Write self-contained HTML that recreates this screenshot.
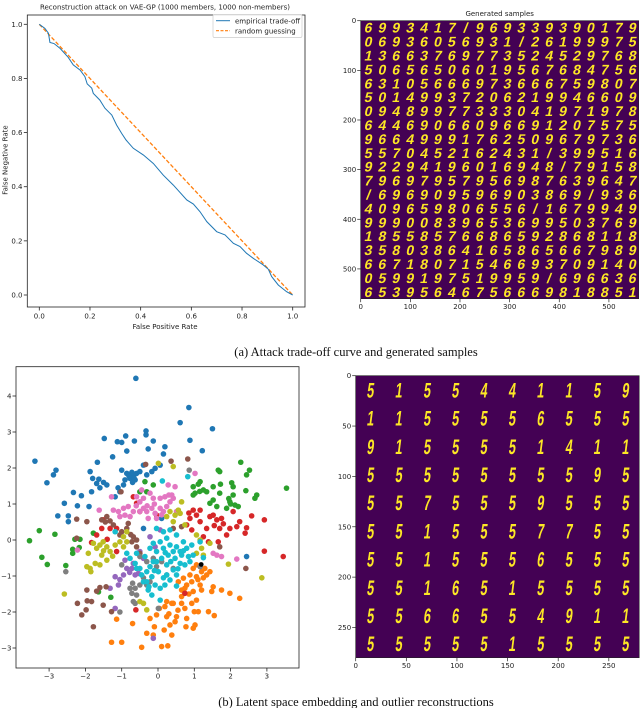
<!DOCTYPE html>
<html><head><meta charset="utf-8"><style>
html,body{margin:0;padding:0;background:#fff;}
svg{display:block;}
.tk{font-family:"DejaVu Sans","Liberation Sans",sans-serif;font-size:7px;fill:#222;}
.cap{font-family:"Liberation Serif",serif;font-size:12.5px;fill:#111;}
</style></head><body>
<svg id="fig" width="640" height="708" viewBox="0 0 640 708" xmlns="http://www.w3.org/2000/svg">
<g id="tl"></g>
<g id="tr"></g>
<g id="bl"></g>
<g id="br"></g>
<text class="cap" x="356" y="356" text-anchor="middle">(a) Attack trade-off curve and generated samples</text>
<text class="cap" x="356" y="706" text-anchor="middle">(b) Latent space embedding and outlier reconstructions</text>
</svg>
<script>
// ---------- trade-off data ----------
const fpr=[0,0.022,0.036,0.042,0.058,0.082,0.114,0.134,0.161,0.180,0.189,0.207,0.213,0.239,0.259,0.286,0.305,0.325,0.342,0.371,0.411,0.450,0.489,0.529,0.582,0.608,0.634,0.661,0.700,0.733,0.766,0.792,0.818,0.845,0.884,0.904,0.917,0.943,0.976,1];
const fnr=[1,0.985,0.967,0.933,0.929,0.911,0.878,0.850,0.831,0.807,0.780,0.764,0.745,0.720,0.690,0.665,0.628,0.597,0.573,0.542,0.517,0.486,0.443,0.406,0.351,0.336,0.308,0.271,0.234,0.222,0.191,0.179,0.154,0.135,0.111,0.095,0.068,0.037,0.012,0];
const randX=[0,1];
const randY=[1,0];
const tlTicks=["0.0","0.2","0.4","0.6","0.8","1.0"];
// ---------- generated samples ----------
const genRows=["6993417/969339390179","06936056931/26199975","13663769773524529768","50656506019567684756","63105666973666759807","50149937206219946609","09489977333041971978","64469066096691207575","96649991762509679736","5570452162431/399516","92294196016948/79158","79697957956987639647","/696909596903869/936","409659806556/1679949","99900839653699503769","18558576686592868118","35803864165865667989","66718071546693709140","0599197519959/696636","65395646756669818851"];
// ---------- outlier reconstructions ----------
const recRows=["5155441159","1155556555","9155551411","5555555595","5575559555","5515557755","5515556555","5516515555","5566554911","5555515555"];
// ---------- latent scatter ----------
const clsColors=["#1f77b4","#ff7f0e","#2ca02c","#d62728","#9467bd","#8c564b","#e377c2","#7f7f7f","#bcbd22","#17becf"];
const c0=[[-0.61,4.49],[0.85,3.68],[0.61,3.26],[1.5,3.09],[0.88,2.77],[1.22,2.48],[-0.33,3.03],[-0.33,2.92],[-0.13,2.75],[-0.27,2.53],[-0.65,2.75],[-0.89,2.89],[-1.0,2.71],[-0.86,2.47],[-1.12,2.73],[-1.48,2.82],[-1.25,2.31],[-1.67,2.16],[-1.87,1.9],[-1.8,1.71],[-1.63,1.69],[-1.69,1.57],[-1.83,1.34],[-2.33,1.32],[-2.11,1.23],[-2.58,1.02],[-2.22,0.95],[-1.9,0.93],[-3.39,2.19],[-3.06,1.59],[-2.88,1.81],[-2.81,1.94],[-2.76,0.67],[-2.47,0.67],[-2.47,0.51],[-1.41,1.53],[-1.18,1.2],[-1.05,1.34],[-0.95,1.53],[-0.91,1.67],[-0.77,1.71],[-0.68,1.81],[-0.59,1.85],[-0.63,1.67],[-0.86,1.85],[-1.0,1.94],[-0.7,1.6],[-0.5,1.9],[-0.31,1.81],[-0.17,1.9],[-0.08,1.99],[0.15,2.39],[0.19,2.59],[0.06,2.08],[-0.4,2.08],[2.44,-0.46],[0.1,0.6],[-0.4,0.32],[-0.8,1.78],[-0.72,1.88],[-0.66,1.72],[-1.1,1.45],[-1.5,1.6],[-1.6,1.45]];
const c1=[[-1.0,-2.84],[-1.28,-2.84],[-1.14,-2.2],[-0.7,-2.32],[-0.45,-2.98],[-0.31,-2.59],[-0.13,-2.64],[0.1,-2.96],[0.27,-2.94],[0.17,-2.5],[0.33,-2.36],[0.38,-2.64],[0.47,-2.27],[0.51,-2.13],[0.24,-2.13],[-0.04,-2.08],[0.04,-1.9],[0.19,-1.85],[0.38,-1.76],[0.65,-1.76],[0.74,-1.9],[0.93,-1.76],[1.06,-1.67],[1.0,-1.99],[1.11,-1.99],[0.79,-2.18],[1.02,-2.36],[1.39,-1.99],[1.55,-2.1],[0.97,-2.45],[0.77,-2.41],[0.65,-1.39],[0.79,-1.25],[0.93,-1.16],[1.06,-1.02],[1.2,-0.88],[1.29,-0.79],[1.34,-0.97],[1.43,-0.88],[1.16,-1.25],[1.2,-1.39],[1.52,-1.3],[1.75,-1.39],[1.98,-1.48],[2.25,-1.62],[1.48,-1.43],[0.97,-0.79],[0.88,-0.97],[0.7,-1.06],[0.56,-1.16],[0.42,-1.76],[0.65,-1.57],[0.97,-1.43],[0.24,-1.71],[1.06,-0.69],[0.74,-1.34],[-0.22,-2.18],[-0.1,-2.41],[1.1,-1.1],[1.25,-1.05],[0.85,-1.5],[0.55,-1.95],[0.3,-2.05]];
const c2=[[2.28,2.16],[2.52,1.94],[2.44,1.81],[1.66,1.94],[1.7,1.9],[1.16,1.62],[1.11,1.55],[0.97,1.48],[1.25,1.39],[1.34,1.34],[1.52,1.48],[1.72,1.55],[2.03,1.59],[2.07,1.48],[2.42,1.37],[2.07,1.25],[1.98,1.06],[2.12,0.97],[1.89,0.88],[1.62,0.93],[1.52,1.11],[1.43,1.02],[0.97,1.25],[1.02,1.3],[2.67,1.16],[2.72,1.25],[3.54,1.44],[2.21,0.93],[1.7,1.3],[-0.31,1.34],[-0.5,1.34],[-0.13,1.53],[-0.36,1.62],[-3.54,-0.02],[-3.27,0.26],[-2.84,0.16],[-3.2,-0.48],[-3.05,-0.68],[-2.54,-0.71],[-2.35,-0.26],[-2.35,-0.37],[-2.29,0.02],[-2.15,0.02],[-2.17,-0.21],[-1.78,0.19],[-1.3,-1.59],[-1.64,-1.44],[1.95,1.15],[2.0,1.0],[1.15,1.35]];
const c3=[[2.58,0.67],[2.93,0.56],[3.45,-0.46],[2.93,-0.31],[2.4,0.19],[2.44,0.34],[2.25,0.51],[2.17,0.37],[1.98,0.32],[1.89,0.14],[1.7,0.32],[1.62,0.56],[1.43,0.65],[1.52,0.69],[1.75,0.6],[1.34,0.32],[1.16,0.51],[1.06,0.69],[0.88,0.6],[0.97,0.83],[1.16,0.83],[0.79,0.42],[0.93,0.28],[1.66,-0.05],[1.39,-0.05],[2.07,0.79],[1.25,0.09],[-1.51,0.56],[-1.32,0.32],[-1.55,0.32],[-1.14,0.32],[-1.69,0.14],[-1.83,-0.07],[-1.4,0.02],[-1.14,-0.32],[-0.68,1.2],[-0.59,1.02],[-0.04,0.69],[0.74,-1.48],[-0.61,-1.94],[-0.5,0.79],[1.8,0.45],[1.55,0.4],[0.85,0.75]];
const c4=[[-1.18,-1.02],[-1.09,-1.25],[-1.32,-1.34],[-0.95,-0.97],[-0.86,-0.79],[-0.68,-0.65],[-0.54,-0.93],[-0.63,-0.97],[-0.13,-2.73],[-1.18,-1.9],[-0.91,-0.56],[-0.4,-0.51],[-0.08,-0.19],[0.06,0.28],[-0.22,0.09],[-0.5,-0.32],[-0.72,-0.79],[-1.05,-1.1],[-0.78,-0.9]];
const c5=[[-2.22,-1.76],[-2.1,-2.08],[-1.98,-1.94],[-1.83,-1.71],[-1.95,-1.69],[-1.78,-2.41],[-1.96,-1.39],[-1.69,-1.42],[-1.6,-1.32],[-1.43,-1.3],[-1.51,-1.81],[-1.28,-1.99],[-2.24,0.05],[-1.96,0.51],[-1.55,0.56],[-1.41,0.65],[-1.32,0.53],[-1.23,0.42],[-0.68,0.09],[-0.59,0],[-0.72,-0.05],[-1.0,0.23],[-0.86,0.32],[-1.05,0.14],[-0.34,2.1],[-1.02,1.34],[0.36,2.19],[0.82,2.25],[0.42,0.32],[0.65,0.37],[1.7,-0.19],[2.42,-0.79],[-2.24,0.58],[-0.59,-0.19],[-0.5,-0.37],[-0.82,0.46],[-1.45,0.5],[-0.75,0.15]];
const c6=[[-1.23,0.83],[-1.09,0.79],[-0.95,0.88],[-0.82,0.93],[-0.91,0.69],[-0.77,0.65],[-0.68,0.79],[-0.5,0.79],[-0.4,0.88],[-0.31,0.79],[-0.17,0.88],[-0.08,0.74],[0.06,0.88],[0.15,0.79],[0.24,0.93],[0.33,1.06],[0.42,1.16],[0.38,1.25],[0.19,1.2],[0.06,1.16],[-0.13,1.16],[-0.22,1.3],[-0.4,1.16],[-0.59,1.2],[-0.5,1.06],[-0.45,1.39],[0.28,1.53],[0.47,1.48],[-1.28,1.2],[-1.62,0.83],[1.02,1.85],[1.62,-0.42],[1.75,-0.46],[1.52,-0.37],[2.17,-0.53],[-2.22,-0.28],[-0.27,0.6],[-0.04,0.6],[0.51,0.79],[-1.05,0.65],[-0.3,0.95],[-0.1,1.0],[0.1,0.7],[0.3,1.25],[-0.6,0.95]];
const c7=[[-0.77,-1.34],[-0.72,-1.48],[-0.63,-1.34],[-0.59,-1.53],[-0.68,-1.71],[-0.5,-1.25],[-0.31,-1.25],[-0.22,-1.16],[-0.04,-0.74],[0.1,-0.6],[-0.13,-0.51],[-0.31,-0.6],[-0.5,-0.46],[0.01,-1.9],[-1.05,-2.0],[-2.54,-0.88],[0.86,1.94],[0.24,-0.97],[0.42,-0.79],[-1.0,-0.69],[-0.63,-1.76],[1.16,-0.74],[-0.7,-1.2],[-0.4,-1.05]];
const c8=[[-1.78,-0.09],[-1.6,-0.14],[-1.69,-0.23],[-1.51,-0.05],[-1.41,-0.19],[-1.32,-0.32],[-1.55,-0.42],[-1.41,-0.56],[-1.6,-0.69],[-1.73,-0.65],[-1.92,-0.37],[-1.87,-0.79],[-1.96,-0.74],[-1.85,-0.88],[-1.18,-0.14],[-1.05,-0.05],[-0.95,0.09],[-0.86,0.23],[-0.86,-0.05],[-0.95,-0.19],[-2.58,-1.5],[0.24,0.65],[0.33,0.79],[0.47,0.69],[0.56,0.83],[0.61,0.74],[0.42,0.51],[0.65,1.06],[0.42,2.04],[0.01,2.13],[1.06,0.14],[1.16,0],[1.2,-0.23],[1.25,-0.42],[1.06,-0.37],[1.43,-0.09],[1.94,-0.67],[2.86,-1.05],[-0.5,-1.71],[-0.4,-1.76],[-0.31,-1.94],[0.74,0.42],[-1.5,-0.3],[-1.25,-0.45]];
const c9=[[-0.04,0.32],[0.15,0.23],[0.33,0.28],[0.51,0.14],[0.24,0.05],[0.06,-0.05],[-0.13,-0.09],[-0.22,-0.23],[-0.04,-0.32],[0.15,-0.23],[0.33,-0.14],[0.51,-0.19],[0.7,-0.05],[0.79,-0.23],[0.65,-0.42],[0.47,-0.51],[0.28,-0.42],[0.1,-0.51],[0.24,-0.69],[0.42,-0.83],[0.61,-0.65],[0.74,-0.69],[0.84,-0.46],[0.93,-0.14],[0.97,-0.42],[0.51,-0.97],[0.33,-1.11],[0.19,-1.25],[0.06,-1.34],[-0.08,-1.25],[-0.17,-1.02],[-0.31,-0.88],[-0.45,-0.97],[-0.4,-1.16],[-0.27,-1.39],[-0.5,-0.79],[-0.63,-0.65],[-0.77,-0.51],[-0.86,-0.37],[-0.59,-0.37],[-0.36,-0.46],[-0.13,-0.6],[0.01,-0.88],[0.24,-0.97],[-0.17,-1.53],[0.51,-1.28],[0.12,1.64],[0.82,1.76],[0.06,-1.67],[1.25,-0.49],[1.16,-0.05],[-0.59,-0.79],[0.61,-0.32],[0.42,-0.32],[-0.04,-0.6],[-0.22,-0.74],[-0.31,-1.16],[-1.18,0.23],[0.35,-0.6],[0.55,-0.8],[0.2,-0.35],[-0.1,-0.85],[0.15,-1.05],[-0.25,-1.3],[0.7,-0.3],[0.88,-0.6]];
const outlier=[[1.19,-0.68]];
const sxTicks=[-3,-2,-1,0,1,2,3];
const syTicks=[-3,-2,-1,0,1,2,3,4];

const NS="http://www.w3.org/2000/svg";
function mk(tag,parent,attrs){const e=document.createElementNS(NS,tag);for(const k in attrs)e.setAttribute(k,attrs[k]);parent.appendChild(e);return e;}
function txt(parent,x,y,s,cls,anchor){const t=mk('text',parent,{x:x,y:y,class:cls||'tk','text-anchor':anchor||'middle'});t.textContent=s;return t;}

// ===== top-left trade-off =====
(function(){
const g=document.getElementById('tl');
const X=v=>39.3+v*253.4, Y=v=>295-v*270.7;
const bg=mk('rect',g,{x:27.3,y:15,width:277.7,height:292,fill:'#fff',stroke:'#222','stroke-width':0.8});

const t=txt(g,165,9.5,'Reconstruction attack on VAE-GP (1000 members, 1000 non-members)','tk');t.setAttribute('font-size','8.6');

tlTicks.forEach((s,i)=>{const v=i/5;
 mk('line',g,{x1:X(v),x2:X(v),y1:307,y2:310.5,stroke:'#222','stroke-width':0.8});
 const l=txt(g,X(v),318.5,s);
 mk('line',g,{x1:23.8,x2:27.3,y1:Y(v),y2:Y(v),stroke:'#222','stroke-width':0.8});
 const m=txt(g,22.5,Y(v)+2.5,s,'tk','end');
});
const xl=txt(g,165,329,'False Positive Rate');
const yl=txt(g,0,0,'False Negative Rate');yl.setAttribute('transform','translate(7.5,160) rotate(-90)');

const rp=mk('polyline',g,{points:randX.map((v,i)=>X(v)+','+Y(randY[i])).join(' '),fill:'none',stroke:'#ff7f0e','stroke-width':1.3,'stroke-dasharray':'4,2'});

const ep=mk('polyline',g,{points:fpr.map((v,i)=>X(v)+','+Y(fnr[i])).join(' '),fill:'none',stroke:'#1f77b4','stroke-width':1});

const lg=mk('g',g,{});
mk('rect',lg,{x:213,y:14.5,width:89,height:23,rx:1.5,fill:'#fff','fill-opacity':0.85,stroke:'#ccc','stroke-width':0.7});
mk('line',lg,{x1:216,x2:230,y1:20.7,y2:20.7,stroke:'#1f77b4','stroke-width':1});
mk('line',lg,{x1:216,x2:230,y1:30.7,y2:30.7,stroke:'#ff7f0e','stroke-width':1.2,'stroke-dasharray':'3,1.5'});
const e1=txt(lg,235,23.3,'empirical trade-off','tk','start');
const e2=txt(lg,235,33.3,'random guessing','tk','start');
})();

// ===== digit grid helper =====
function grid(g,x0,y0,w,h,units,ticks,rows,fs,sx,wt,title){
 const r=mk('rect',g,{x:x0,y:y0,width:w,height:h,fill:'#440154',stroke:'#222','stroke-width':0.6});
 
 const n=rows.length,cw=w/rows[0].length,ch=h/n;
 rows.forEach((row,ri)=>{[...row].forEach((c,ci)=>{
  const cx=x0+(ci+0.5)*cw, cy=y0+(ri+0.5)*ch+fs*0.36;
  const t=mk('text',g,{x:0,y:0,'text-anchor':'middle',fill:'#fde725','font-family':'"Liberation Sans",sans-serif','font-size':fs,'font-weight':wt,transform:'translate('+cx+','+cy+') scale('+sx+',1) skewX(-12)'});
  t.textContent=c;
 });});
 ticks.forEach(v=>{const px=x0+v/units*w, py=y0+v/units*h;
  mk('line',g,{x1:px,x2:px,y1:y0+h,y2:y0+h+3.5,stroke:'#222','stroke-width':0.7});
  const a=txt(g,px,y0+h+10.5,String(v));
  mk('line',g,{x1:x0-3.5,x2:x0,y1:py,y2:py,stroke:'#222','stroke-width':0.7});
  const b=txt(g,x0-4.5,py+2.5,String(v),'tk','end');
 });
 if(title){const t=txt(g,x0+w/2,16,title);t.setAttribute('font-size','8.6');}
}
grid(document.getElementById('tr'),360.7,20.7,278,278,560,[0,100,200,300,400,500],genRows,14,1,'bold','Generated samples');
grid(document.getElementById('br'),355.7,375.7,283.5,282,280,[0,50,100,150,200,250],recRows,21,0.6,'bold',null);

// ===== latent scatter =====
(function(){
const g=document.getElementById('bl');
const X=v=>158+v*36.3, Y=v=>540-v*36;
const r=mk('rect',g,{x:16,y:366.7,width:283,height:301.3,fill:'#fff',stroke:'#222','stroke-width':0.8});

sxTicks.forEach(v=>{mk('line',g,{x1:X(v),x2:X(v),y1:668,y2:671.5,stroke:'#222','stroke-width':0.8});
 const t=txt(g,X(v),678.5,String(v).replace('-','\u2212'));});
syTicks.forEach(v=>{mk('line',g,{x1:12.5,x2:16,y1:Y(v),y2:Y(v),stroke:'#222','stroke-width':0.8});
 const t=txt(g,11.5,Y(v)+2.5,String(v).replace('-','\u2212'),'tk','end');});
const classes=[c0,c1,c2,c3,c4,c5,c6,c7,c8,c9];
classes.forEach((pts,k)=>{const cg=mk('g',g,{fill:clsColors[k]});
 
 pts.forEach(p=>{const c=mk('circle',cg,{cx:X(p[0]),cy:Y(p[1]),r:2.8});
  });});
outlier.forEach(p=>{const c=mk('circle',g,{cx:X(p[0]),cy:Y(p[1]),r:2.4,fill:'#000'});
 });
})();
</script>
</body></html>
